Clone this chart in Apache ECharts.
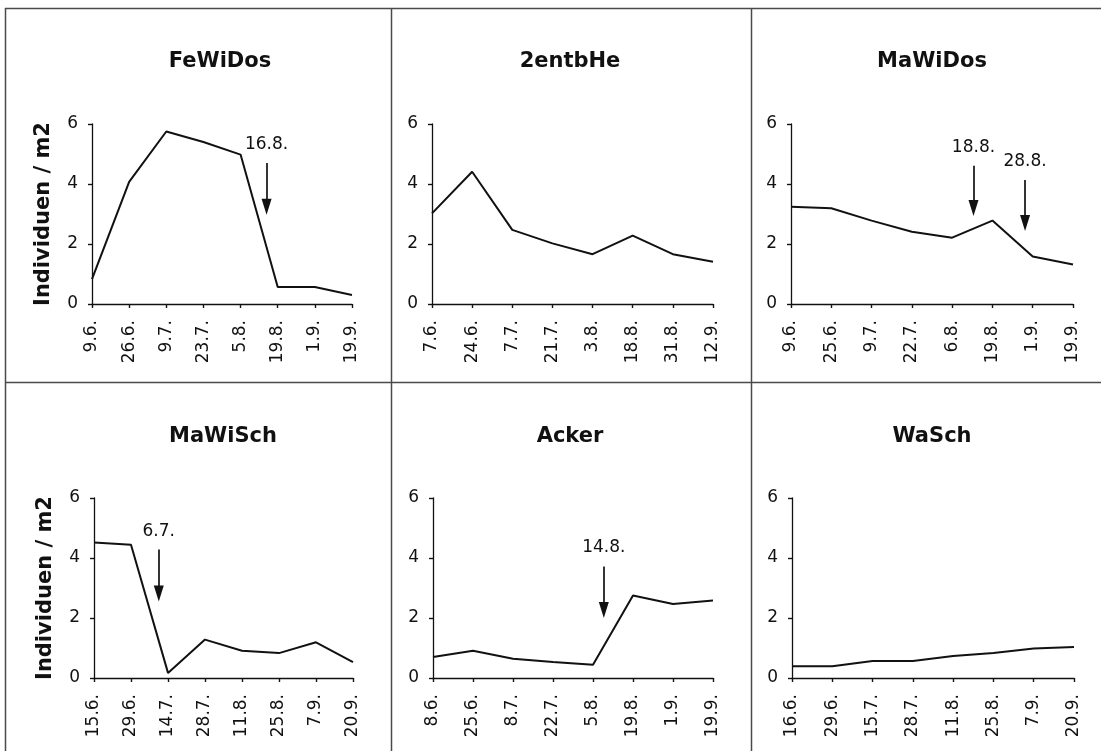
<!DOCTYPE html>
<html>
<head>
<meta charset="utf-8">
<script src="https://cdn.jsdelivr.net/npm/echarts@6/dist/echarts.min.js"></script>
<style>
html,body{margin:0;padding:0;background:#fff;}
#chart{width:1101px;height:751px;}
</style>
</head>
<body>
<div id="chart"></div>
<script>
// ---- data ----
var titles = ['FeWiDos', '2entbHe', 'MaWiDos', 'MaWiSch', 'Acker', 'WaSch'];
var cats1 = ['9.6.', '26.6.', '9.7.', '23.7.', '5.8.', '19.8.', '1.9.', '19.9.'];
var vals1 = [0.83, 4.07, 5.75, 5.40, 4.98, 0.57, 0.57, 0.30];
var cats2 = ['7.6.', '24.6.', '7.7.', '21.7.', '3.8.', '18.8.', '31.8.', '12.9.'];
var vals2 = [3.02, 4.41, 2.47, 2.02, 1.66, 2.28, 1.66, 1.41];
var cats3 = ['9.6.', '25.6.', '9.7.', '22.7.', '6.8.', '19.8.', '1.9.', '19.9.'];
var vals3 = [3.24, 3.19, 2.78, 2.41, 2.21, 2.78, 1.58, 1.32];
var cats4 = ['15.6.', '29.6.', '14.7.', '28.7.', '11.8.', '25.8.', '7.9.', '20.9.'];
var vals4 = [4.52, 4.44, 0.17, 1.28, 0.91, 0.83, 1.19, 0.53];
var cats5 = ['8.6.', '25.6.', '8.7.', '22.7.', '5.8.', '19.8.', '1.9.', '19.9.'];
var vals5 = [0.70, 0.91, 0.64, 0.53, 0.44, 2.75, 2.47, 2.58];
var cats6 = ['16.6.', '29.6.', '15.7.', '28.7.', '11.8.', '25.8.', '7.9.', '20.9.'];
var vals6 = [0.39, 0.39, 0.57, 0.57, 0.73, 0.83, 0.98, 1.03];
var yTicks = [0, 2, 4, 6];
var yName = 'Individuen / m2';

// annotations (arrows): panel index, label, x position (in category index units), top y, tip y
var annoPanel = [0, 2, 2, 3, 4];
var annoLabel = ['16.8.', '18.8.', '28.8.', '6.7.', '14.8.'];
var annoX     = [4.70, 4.53, 5.81, 1.75, 4.27];
var annoTop   = [4.70, 4.61, 4.13, 4.28, 3.72];
var annoTip   = [2.97, 2.93, 2.43, 2.55, 2.00];

var allCats = [cats1, cats2, cats3, cats4, cats5, cats6];
var allVals = [vals1, vals2, vals3, vals4, vals5, vals6];

// ---- layout ----
var grids = [
  {left: 92,  top: 124, width: 260, height: 180},
  {left: 432, top: 124, width: 281, height: 180},
  {left: 791, top: 124, width: 282, height: 180},
  {left: 94,  top: 498, width: 259, height: 180},
  {left: 433, top: 498, width: 280, height: 180},
  {left: 792, top: 498, width: 282, height: 180}
];
var titlePos = [[220, 62], [570, 62], [932, 62], [223, 437], [570, 437], [932, 437]];

var FONT = 'DejaVu Sans';
var xAxes = [], yAxes = [], series = [], graphics = [];

grids.forEach(function (g, i) {
  var cats = allCats[i];
  xAxes.push({
    type: 'value', gridIndex: i, min: 0, max: cats.length - 1, interval: 1,
    axisLine: {show: true, lineStyle: {color: '#111', width: 1.3}},
    axisTick: {show: true, inside: false, length: 4, lineStyle: {color: '#111', width: 1.2}},
    axisLabel: {show: true, rotate: 90, margin: 16, color: '#111', fontFamily: FONT, fontSize: 17,
      formatter: (function (c) { return function (v) { return c[Math.round(v)] || ''; }; })(cats)},
    splitLine: {show: false}
  });
  xAxes.push({
    type: 'value', gridIndex: i, min: 0, max: cats.length - 1, interval: 1,
    axisLine: {show: false},
    axisTick: {show: true, inside: true, length: 4, lineStyle: {color: '#111', width: 1.2}},
    axisLabel: {show: false}, splitLine: {show: false}
  });
  var ya = {
    type: 'value', gridIndex: i, min: yTicks[0], max: yTicks[yTicks.length - 1], interval: yTicks[1] - yTicks[0],
    axisLine: {show: true, lineStyle: {color: '#111', width: 1.3}},
    axisTick: {show: true, inside: false, length: 4, lineStyle: {color: '#111', width: 1.2}},
    axisLabel: {show: true, margin: 14, color: '#111', fontFamily: FONT, fontSize: 17},
    splitLine: {show: false}
  };
  if (i % 3 === 0) {
    ya.name = yName;
    ya.nameLocation = 'middle';
    ya.nameGap = 38;
    ya.nameTextStyle = {fontFamily: FONT, fontWeight: 'bold', fontSize: 21, color: '#111'};
  }
  yAxes.push(ya);
  yAxes.push({
    type: 'value', gridIndex: i, min: yTicks[0], max: yTicks[yTicks.length - 1], interval: yTicks[1] - yTicks[0],
    axisLine: {show: false},
    axisTick: {show: true, inside: true, length: 4, lineStyle: {color: '#111', width: 1.2}},
    axisLabel: {show: false}, splitLine: {show: false}
  });

  var mlData = [];
  for (var k = 0; k < annoPanel.length; k++) {
    if (annoPanel[k] !== i) continue;
    mlData.push([
      {coord: [annoX[k], annoTop[k]], label: {formatter: annoLabel[k]}},
      {coord: [annoX[k], annoTip[k] + 0.27]}
    ]);
  }

  series.push({
    type: 'line', xAxisIndex: 2 * i, yAxisIndex: 2 * i,
    data: allVals[i].map(function (v, j) { return [j, v]; }),
    showSymbol: false, symbol: 'none', silent: true, animation: false,
    lineStyle: {color: '#111', width: 2},
    markLine: mlData.length ? {
      silent: true, animation: false,
      symbol: ['none', 'triangle'], symbolSize: [10, 16],
      lineStyle: {color: '#111', width: 1.7, type: 'solid'},
      label: {show: true, position: 'start', distance: 10, color: '#111', fontFamily: FONT, fontSize: 17},
      emphasis: {disabled: true},
      data: mlData
    } : undefined
  });

  graphics.push({
    type: 'text', x: titlePos[i][0], y: titlePos[i][1], silent: true,
    style: {text: titles[i], align: 'center', verticalAlign: 'middle',
      font: 'bold 21px "DejaVu Sans"', fill: '#111'}
  });
});

// panel frame lines
var frameColor = '#4a4a4a';
[
  [5, 8.5, 1101, 8.5],
  [5, 382.5, 1101, 382.5],
  [5.5, 8, 5.5, 751],
  [391.5, 8, 391.5, 751],
  [751.5, 8, 751.5, 751]
].forEach(function (s) {
  graphics.push({type: 'line', silent: true, shape: {x1: s[0], y1: s[1], x2: s[2], y2: s[3]},
    style: {stroke: frameColor, lineWidth: 1.5}});
});

var chart = echarts.init(document.getElementById('chart'), null, {renderer: 'canvas'});
chart.setOption({
  backgroundColor: '#fff',
  animation: false,
  grid: grids.map(function (g) { return {left: g.left, top: g.top, width: g.width, height: g.height, containLabel: false}; }),
  xAxis: xAxes,
  yAxis: yAxes,
  series: series,
  graphic: graphics
});
</script>
</body>
</html>
